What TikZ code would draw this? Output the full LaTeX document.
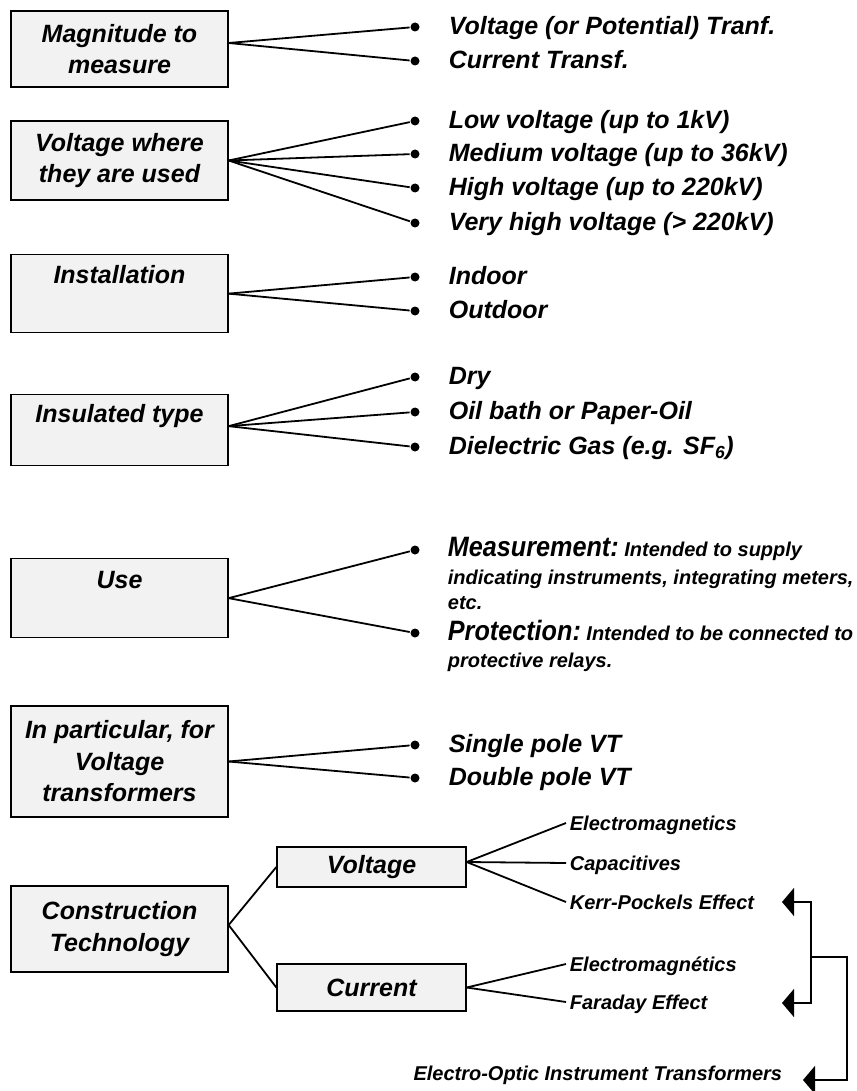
\documentclass[tikz,border=0pt]{standalone}
\usepackage{fontspec}
\setmainfont{Liberation Sans}
\usepackage{graphicx}
\usetikzlibrary{arrows.meta,positioning}

\newcommand{\bighead}[1]{\scalebox{0.9}[1]{\fontsize{28}{28}\selectfont #1}}

\begin{document}
\begin{tikzpicture}[x=1pt, y=-1pt, line width=1.8pt]
\tikzstyle{box}=[draw=black, fill=black!5, line width=1.3pt, minimum width=217pt, inner sep=0pt, align=center, font=\fontsize{25}{31.5}\selectfont\bfseries\itshape]
\tikzstyle{dot}=[circle, fill=black, inner sep=0pt, minimum size=9pt]
\tikzstyle{item}=[inner sep=0pt, text height=20pt, text depth=5pt, font=\fontsize{25}{31}\selectfont\bfseries\itshape]
\tikzstyle{sub}=[inner sep=0pt, text height=16pt, text depth=2pt, font=\fontsize{20}{25}\selectfont\bfseries\itshape]
\tikzstyle{note}=[inner sep=0pt, align=left, anchor=north west, font=\fontsize{20}{25.5}\selectfont\bfseries\itshape]
\tikzstyle{tip}=[-{Triangle[length=12pt,width=28pt]}, line width=1.6pt]
\useasboundingbox (0,0) rectangle (856,1091);

\node[box, minimum height=76pt] (mag) at (119.5,49) {Magnitude to\\measure};
\node[box, minimum height=79pt] (volt) at (119.5,160.5) {Voltage where\\they are used};
\node[box, anchor=north, inner ysep=11pt, text height=18pt, text depth=38pt] (inst) at (119.5,254) {Installation};
\node[box, anchor=north, inner ysep=10pt, text height=18pt, text depth=33pt] (insul) at (119.5,394) {Insulated type};
\node[box, anchor=north, inner ysep=12pt, text height=18pt, text depth=37pt] (use) at (119.5,558) {Use};
\node[box, minimum height=111pt] (part) at (119.5,761.5) {In particular, for\\Voltage\\transformers};
\node[box, minimum height=86pt] (cons) at (119.5,929) {Construction\\Technology};
\node[box, minimum width=189pt, minimum height=40pt] (vt) at (371.5,867) {Voltage};
\node[box, minimum width=189pt, minimum height=47pt] (ct) at (371.5,987.5) {Current};

\node[dot] (m1) at (415,27) {};
\node[dot] (m2) at (415,61) {};
\node[dot] (v1) at (415,121) {};
\node[dot] (v2) at (415,154) {};
\node[dot] (v3) at (415,188) {};
\node[dot] (v4) at (415,223) {};
\node[dot] (i1) at (415,277) {};
\node[dot] (i2) at (415,311) {};
\node[dot] (s1) at (415,377) {};
\node[dot] (s2) at (415,412) {};
\node[dot] (s3) at (415,447) {};
\node[dot] (u1) at (415,550) {};
\node[dot] (u2) at (415,633) {};
\node[dot] (p1) at (415,745) {};
\node[dot] (p2) at (415,778) {};

\node[item, right=27.5pt of m1] (m1t) {Voltage (or Potential) Tranf.};
\node[item, right=27.5pt of m2] (m2t) {Current Transf.};
\node[item, right=27.5pt of v1] (v1t) {Low voltage (up to 1kV)};
\node[item, right=27.5pt of v2] (v2t) {Medium voltage (up to 36kV)};
\node[item, right=27.5pt of v3] (v3t) {High voltage (up to 220kV)};
\node[item, right=27.5pt of v4] (v4t) {Very high voltage (> 220kV)};
\node[item, right=27.5pt of i1] (i1t) {Indoor};
\node[item, right=27.5pt of i2] (i2t) {Outdoor};
\node[item, right=27.5pt of s1] (s1t) {Dry};
\node[item, right=27.5pt of s2] (s2t) {Oil bath or Paper-Oil};
\node[item, right=27.5pt of s3] (s3t) {Dielectric Gas (e.g. SF\textsubscript{6})};
\node[note] (u1t) at (447,536.5) {\bighead{Measurement:} Intended to supply\\[2pt]indicating instruments, integrating meters,\\etc.};
\node[note] (u2t) at (447,619.5) {\bighead{Protection:} Intended to be connected to\\[1.5pt]protective relays.};
\node[item, right=27.5pt of p1] (p1t) {Single pole VT};
\node[item, right=27.5pt of p2] (p2t) {Double pole VT};

\coordinate (ve1) at (566,823);
\coordinate (ve2) at (566,863);
\coordinate (ve3) at (566,902);
\coordinate (ce1) at (566,964);
\coordinate (ce2) at (566,1002);
\node[sub, right=3pt of ve1] (ve1t) {Electromagnetics};
\node[sub, right=3pt of ve2] (ve2t) {Capacitives};
\node[sub, right=3pt of ve3] (ve3t) {Kerr-Pockels Effect};
\node[sub, right=3pt of ce1] (ce1t) {Electromagnétics};
\node[sub, right=3pt of ce2] (ce2t) {Faraday Effect};
\node[sub, anchor=base east] (eo) at (783,1080) {Electro-Optic Instrument Transformers};

\path ([yshift=6pt]mag.east) edge (m1) edge (m2);
\path (volt.east) edge (v1) edge (v2) edge (v3) edge (v4);
\path (inst.east) edge (i1) edge (i2);
\path ([yshift=4pt]insul.east) edge (s1) edge (s2) edge (s3);
\path (use.east) edge (u1) edge (u2);
\path (part.east) edge (p1) edge (p2);
\path ([yshift=4pt]cons.east) edge (vt.west) edge (ct.west);
\path ([yshift=5pt]vt.east) edge (ve1) edge (ve2) edge (ve3);
\path (ct.east) edge (ce1) edge (ce2);

\coordinate (kpA) at (782,902);
\coordinate (fdA) at (782,1003);
\coordinate (eoA) at (803,1080);
\coordinate (brk) at (811,957);
\coordinate (brk2) at (847,957);
\draw[tip] (brk) |- (kpA);
\draw[tip] (brk) |- (fdA);
\draw[tip] (brk) -- (brk2) |- (eoA);
\end{tikzpicture}
\end{document}
